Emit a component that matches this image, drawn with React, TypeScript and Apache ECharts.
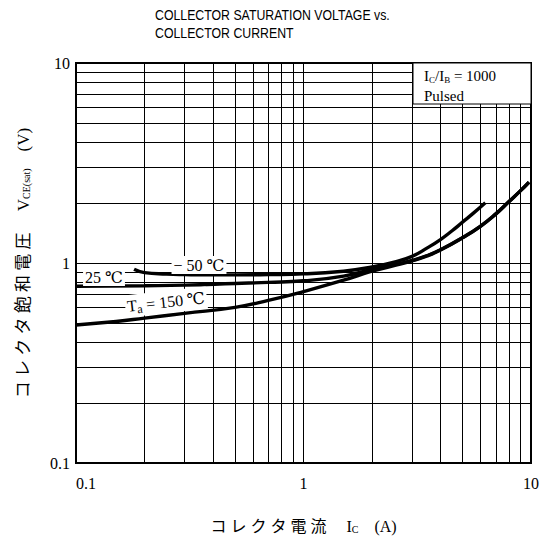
import React, { useEffect, useRef } from "react";
import * as echarts from "echarts";

const titleLines = ["COLLECTOR SATURATION VOLTAGE vs.", "COLLECTOR CURRENT"];
const xTickValues = [0.1, 1, 10];
const yTickValues = [0.1, 1, 10];
const minorValues = [0.2, 0.3, 0.4, 0.5, 0.6, 0.7, 0.8, 0.9, 2, 3, 4, 5, 6, 7, 8, 9];

const icM50 = [0.18, 0.2, 0.25, 0.3, 0.4, 0.5, 0.7, 1, 1.5, 2, 2.5, 3, 3.5, 4, 4.5, 5, 5.6, 6.3];
const vM50 = [0.93, 0.895, 0.88, 0.875, 0.872, 0.872, 0.875, 0.882, 0.91, 0.955, 1.01, 1.08, 1.19, 1.31, 1.45, 1.6, 1.78, 2.0];

const ic25 = [0.1, 0.2, 0.3, 0.5, 0.7, 1, 1.5, 2, 2.5, 3, 3.5, 4, 5, 6, 7, 8, 9, 9.8];
const v25 = [0.765, 0.77, 0.775, 0.79, 0.8, 0.815, 0.86, 0.93, 0.98, 1.03, 1.09, 1.165, 1.34, 1.53, 1.76, 2.03, 2.3, 2.54];

const ic150 = [0.1, 0.15, 0.2, 0.3, 0.5, 0.7, 1, 1.5, 2, 2.5, 3, 3.5, 4, 5, 6, 7, 8, 9, 9.8];
const v150 = [0.49, 0.51, 0.53, 0.56, 0.6, 0.65, 0.72, 0.82, 0.91, 0.97, 1.025, 1.085, 1.16, 1.335, 1.525, 1.755, 2.025, 2.3, 2.535];

const SERIF = "'Liberation Serif', 'DejaVu Serif', 'Noto Sans CJK JP', serif";
const SANS = "'Liberation Sans', Arial, sans-serif";

function pairs(xs: number[], ys: number[]) {
  return xs.map((x, i) => [x, ys[i]]);
}

export default function App() {
  const ref = useRef<HTMLDivElement>(null);
  useEffect(() => {
    if (!ref.current) return;
    const chart = echarts.init(ref.current, null, { renderer: "svg" });
    const curveStyle = { color: "#000", width: 3.4 };
    const gridLineStyle = { color: "#000", width: 1, type: "solid" as const };
    const markLines = [
      ...minorValues.map((v) => ({ xAxis: v })),
      ...minorValues.map((v) => ({ yAxis: v })),
      { xAxis: 1 },
      { yAxis: 1 },
    ];
    const curve = (name: string, xs: number[], ys: number[]) => ({
      type: "line",
      name,
      data: pairs(xs, ys),
      smooth: 0.5,
      showSymbol: false,
      lineStyle: curveStyle,
      z: 3,
    });
    chart.setOption({
      animation: false,
      backgroundColor: "#fff",
      grid: {
        left: 76,
        right: 18,
        top: 63,
        bottom: 77,
        show: true,
        borderColor: "#000",
        borderWidth: 2,
        backgroundColor: "transparent",
      },
      xAxis: {
        type: "log",
        logBase: 10,
        min: 0.1,
        max: 10,
        axisLine: { show: false },
        axisTick: { show: false },
        splitLine: { show: false },
        axisLabel: {
          fontFamily: SERIF,
          fontSize: 16,
          color: "#000",
          margin: 12,
          alignMinLabel: "left",
          alignMaxLabel: "center",
          formatter: (v: number) => (xTickValues.some((t) => Math.abs(t - v) < 1e-9) ? String(v) : ""),
        },
        name: "コ レ ク タ 電 流　 I{sub|C}　(A)",
        nameLocation: "middle",
        nameGap: 55,
        nameTextStyle: {
          fontFamily: SERIF,
          fontSize: 16,
          color: "#000",
          rich: { sub: { fontSize: 10, verticalAlign: "bottom", padding: [6, 0, 0, 0], fontFamily: SERIF } },
        },
      },
      yAxis: {
        type: "log",
        logBase: 10,
        min: 0.1,
        max: 10,
        axisLine: { show: false },
        axisTick: { show: false },
        splitLine: { show: false },
        axisLabel: {
          fontFamily: SERIF,
          fontSize: 16,
          color: "#000",
          margin: 6,
          formatter: (v: number) => (yTickValues.some((t) => Math.abs(t - v) < 1e-9) ? String(v) : ""),
        },
        name: "コ レ ク タ 飽 和 電 圧　 V{sub|CE(sat)}　(V)",
        nameLocation: "middle",
        nameRotate: 90,
        nameGap: 44,
        nameTextStyle: {
          fontFamily: SERIF,
          fontSize: 17,
          color: "#000",
          rich: { sub: { fontSize: 10, padding: [6, 0, 0, 0], fontFamily: SERIF } },
        },
      },
      series: [
        {
          type: "line",
          data: [],
          silent: true,
          markLine: {
            silent: true,
            symbol: "none",
            label: { show: false },
            lineStyle: gridLineStyle,
            emphasis: { disabled: true },
            data: markLines,
          },
          z: 1,
        },
        curve("-50", icM50, vM50),
        curve("25", ic25, v25),
        curve("150", ic150, v150),
      ],
      graphic: [
        {
          type: "text",
          x: 155,
          y: 6,
          scaleX: 0.88,
          style: {
            text: titleLines.join("\n"),
            fontFamily: SANS,
            fontSize: 14,
            lineHeight: 18,
            fill: "#000",
          },
        },
        {
          type: "rect",
          shape: { x: 413, y: 63, width: 118, height: 41 },
          style: { fill: "#fff", stroke: "#000", lineWidth: 1 },
          z: 10,
        },
        {
          type: "text",
          x: 424,
          y: 66,
          z: 11,
          style: {
            text: "I{s|C}/I{s|B} = 1000\nPulsed",
            fontFamily: SERIF,
            fontSize: 15,
            lineHeight: 20,
            fill: "#000",
            rich: { s: { fontSize: 9, fontFamily: SERIF, padding: [7, 0, 0, 0] } },
          },
        },
        {
          type: "text",
          x: 199,
          y: 265,
          z: 12,
          style: {
            text: "− 50 ℃",
            fontFamily: SERIF,
            fontSize: 16,
            fill: "#000",
            align: "center",
            verticalAlign: "middle",
            backgroundColor: "#fff",
            padding: [1, 2, 1, 2],
          },
        },
        {
          type: "text",
          x: 104,
          y: 277,
          z: 12,
          style: {
            text: "25 ℃",
            fontFamily: SERIF,
            fontSize: 16,
            fill: "#000",
            align: "center",
            verticalAlign: "middle",
            backgroundColor: "#fff",
            padding: [1, 2, 1, 2],
          },
        },
        {
          type: "text",
          x: 166,
          y: 302,
          rotation: 0.11,
          z: 12,
          style: {
            text: "T{s|a} = 150 ℃",
            fontFamily: SERIF,
            fontSize: 16,
            fill: "#000",
            align: "center",
            verticalAlign: "middle",
            backgroundColor: "#fff",
            padding: [1, 2, 1, 2],
            rich: { s: { fontSize: 12, fontFamily: SERIF, padding: [8, 0, 0, 0] } },
          },
        },
      ],
    });
    return () => chart.dispose();
  }, []);
  return (
    <div
      ref={ref}
      style={{ position: "fixed", left: 0, top: 0, width: 549, height: 540, background: "#fff" }}
    />
  );
}
